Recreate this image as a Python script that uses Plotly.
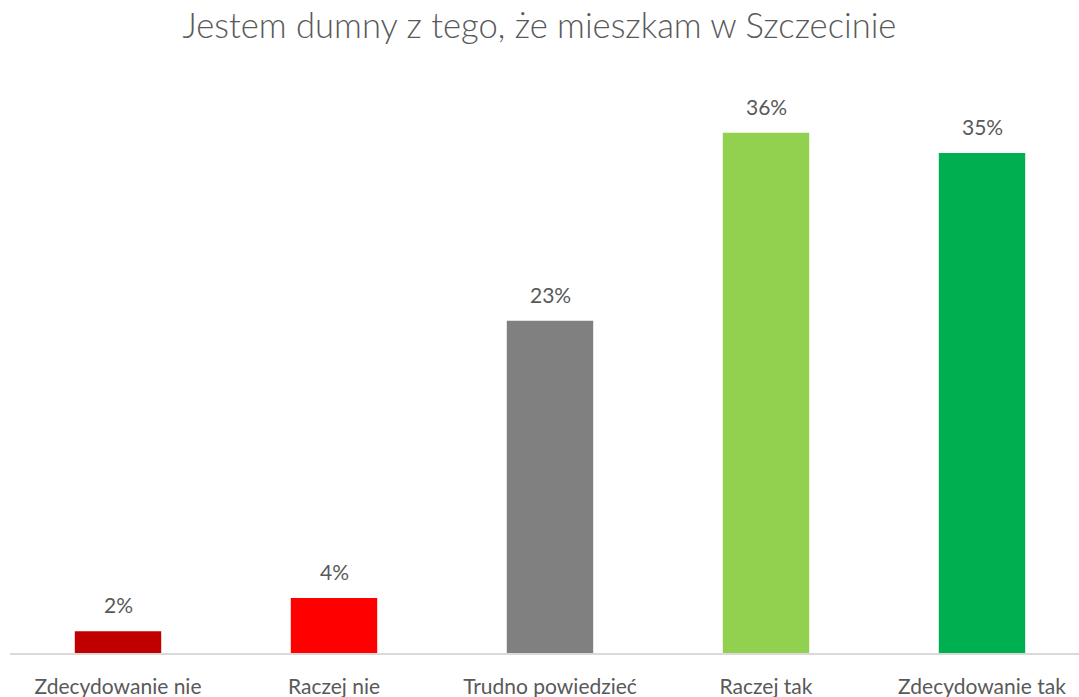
import plotly.graph_objects as go

categories = ["Zdecydowanie nie", "Raczej nie", "Trudno powiedzieć", "Raczej tak", "Zdecydowanie tak"]
values = [1.5, 3.8, 23.0, 36.0, 34.6]
labels = ["2%", "4%", "23%", "36%", "35%"]
colors = ["#C00000", "#FF0000", "#808080", "#92D050", "#00B050"]

fig = go.Figure()
fig.add_trace(go.Bar(
    x=categories, y=values, marker=dict(color=colors, line=dict(width=0)),
    width=0.4, hoverinfo="skip",
))
for c, v, t in zip(categories, values, labels):
    fig.add_annotation(x=c, y=v, text=t, showarrow=False, yanchor="bottom",
                       yshift=12, font=dict(family="Lato", size=21, color="#595959"))

fig.update_layout(
    width=1079, height=697,
    margin=dict(l=10, r=0, t=75, b=44, autoexpand=False),
    paper_bgcolor="white", plot_bgcolor="white",
    showlegend=False,
    title=dict(text="Jestem dumny z tego, że mieszkam w Szczecinie",
               x=0.5, xanchor="center", y=1 - 26 / 697, yanchor="middle", yref="container",
               font=dict(family="Lato", size=34.6, color="#595959", weight=300)),
    xaxis=dict(range=[-0.5, 4.5 - 11 / 216], showgrid=False, showline=True,
               linecolor="#D9D9D9", linewidth=1.5, ticks="", ticklabelstandoff=14,
               automargin=False,
               tickfont=dict(family="Lato", size=21, color="#595959")),
    yaxis=dict(range=[0, 40], showgrid=False, showticklabels=False, zeroline=False,
               showline=False),
)
fig.write_html("out.html", config={"displayModeBar": False},
               post_script="document.body.style.margin='0';document.body.style.overflow='hidden';")
